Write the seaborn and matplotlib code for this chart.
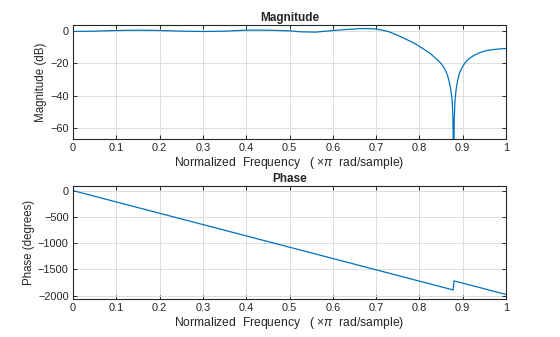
import matplotlib
matplotlib.use("Agg")
import matplotlib.pyplot as plt
import seaborn as sns
import pandas as pd

# ---- data ----
mag_freq = [0.0, 0.05, 0.1, 0.15, 0.2, 0.25, 0.3, 0.35, 0.4, 0.45, 0.5, 0.525,
            0.56, 0.6, 0.63, 0.66, 0.68, 0.7, 0.715, 0.73, 0.75, 0.77, 0.79,
            0.81, 0.825, 0.84, 0.85, 0.859, 0.865, 0.869, 0.872, 0.8745, 0.876,
            0.8775, 0.879, 0.8805, 0.882, 0.884, 0.886, 0.889, 0.892, 0.896,
            0.9, 0.906, 0.913, 0.925, 0.94, 0.955, 0.97, 0.985, 1.0]
mag_db = [-0.4, -0.2, 0.2, 0.4, 0.2, -0.2, -0.4, -0.2, 0.4, 0.4, 0.0, -0.6,
          -0.8, 0.2, 0.8, 1.3, 1.4, 1.1, 0.4, -0.6, -2.8, -5.3, -7.9,
          -11.3, -14.0, -17.5, -20.1, -23.8, -27.5, -31.5, -35.5, -40.0, -45.0,
          -55.0, -85.0, -55.0, -44.0, -38.0, -34.0, -30.0, -26.5, -24.0,
          -22.0, -19.5, -17.5, -15.3, -13.4, -12.2, -11.6, -11.2, -10.9]

phase_freq = [0.0, 0.878, 0.880, 1.0]
phase_deg = [0.0, -1890.0, -1718.0, -1975.0]

x_ticks = [0, 0.1, 0.2, 0.3, 0.4, 0.5, 0.6, 0.7, 0.8, 0.9, 1]
x_tick_labels = ["0", "0.1", "0.2", "0.3", "0.4", "0.5", "0.6", "0.7", "0.8", "0.9", "1"]
mag_ticks = [-60, -40, -20, 0]
phase_ticks = [-2000, -1500, -1000, -500, 0]

# ---- style ----
sns.set_theme(style="ticks")
plt.rcParams['font.family'] = ['Liberation Sans', 'DejaVu Sans']
plt.rcParams['mathtext.fontset'] = 'custom'
plt.rcParams['mathtext.rm'] = 'Liberation Sans'
plt.rcParams['mathtext.it'] = 'Liberation Sans:italic'

dark = "#262626"
blue = "#0072BD"

fig = plt.figure(figsize=(5.6, 3.37), dpi=100)
ax1 = fig.add_axes([73/560, 1-139/337, 433/560, 114/337])
ax2 = fig.add_axes([73/560, 1-299/337, 433/560, 113/337])

df_mag = pd.DataFrame({"f": mag_freq, "m": mag_db})
df_ph = pd.DataFrame({"f": phase_freq, "p": phase_deg})

sns.lineplot(data=df_mag, x="f", y="m", ax=ax1, color=blue, linewidth=0.9,
             estimator=None, sort=False)
sns.lineplot(data=df_ph, x="f", y="p", ax=ax2, color=blue, linewidth=0.9,
             estimator=None, sort=False)

xlabel = r"Normalized  Frequency   ( $\times\mathit{\pi}$  rad/sample)"
for ax, title, ylabel, yticks, ylim in [
        (ax1, "Magnitude", "Magnitude (dB)", mag_ticks, (-66.8, 3.6)),
        (ax2, "Phase", "Phase (degrees)", phase_ticks, (-2062, 88))]:
    ax.set_xlim(0, 1)
    ax.set_ylim(*ylim)
    ax.set_xticks(x_ticks)
    ax.set_xticklabels(x_tick_labels)
    ax.set_yticks(yticks)
    ax.grid(True, color="#dcdcdc", linewidth=0.7)
    ax.set_axisbelow(True)
    ax.tick_params(direction="in", length=3, width=0.7, colors=dark,
                   labelsize=7.9, top=True, right=True, pad=3)
    for s in ax.spines.values():
        s.set_color(dark)
        s.set_linewidth(0.8)
        s.set_visible(True)
    ax.set_title(title, fontsize=8.5, fontweight="bold", color=dark, pad=3)
    ax.set_xlabel(xlabel, fontsize=8.7, color=dark, labelpad=1)
    ax.set_ylabel(ylabel, fontsize=8.3, color=dark, labelpad=2)

fig.savefig("out.png", dpi=100)
